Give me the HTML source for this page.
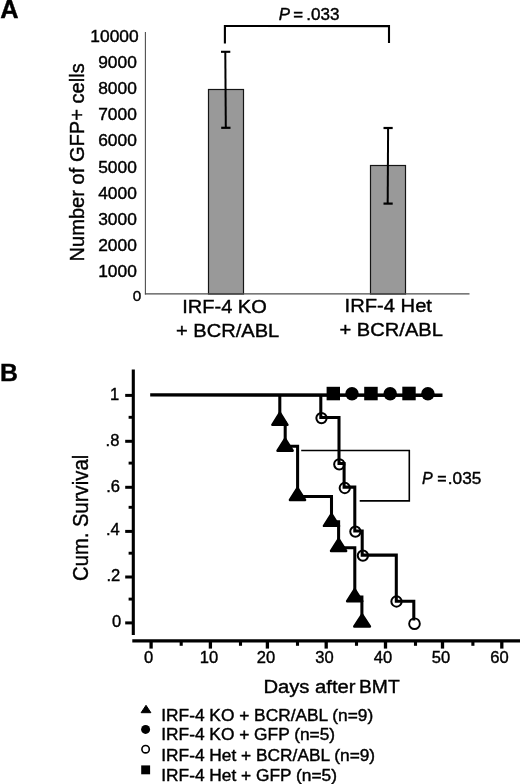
<!DOCTYPE html>
<html>
<head>
<meta charset="utf-8">
<title>Figure</title>
<style>
html,body{margin:0;padding:0;background:#fff;}
body{width:520px;height:784px;overflow:hidden;font-family:"Liberation Sans",sans-serif;}
svg{display:block;filter:grayscale(1);}
text{font-family:"Liberation Sans",sans-serif;fill:#000;stroke:#000;stroke-width:0.4px;}
.tk{font-size:16px;}
.tb{font-size:17px;}
.lg{font-size:16px;}
</style>
</head>
<body>
<svg width="520" height="784" viewBox="0 0 520 784">
<rect x="0" y="0" width="520" height="784" fill="#ffffff"/>

<!-- ================= PANEL A ================= -->
<text transform="translate(0.2,17.9) scale(0.99,1)" font-size="25.6" font-weight="bold" fill="#000">A</text>

<!-- y tick labels -->
<g class="tk" text-anchor="end">
<text transform="translate(138.6,41.5) scale(1.085,1)">10000</text>
<text transform="translate(136.8,67.8) scale(1.085,1)">9000</text>
<text transform="translate(136.8,94.0) scale(1.085,1)">8000</text>
<text transform="translate(136.8,120.2) scale(1.085,1)">7000</text>
<text transform="translate(136.8,146.4) scale(1.085,1)">6000</text>
<text transform="translate(136.8,172.7) scale(1.085,1)">5000</text>
<text transform="translate(136.8,198.9) scale(1.085,1)">4000</text>
<text transform="translate(136.8,225.1) scale(1.085,1)">3000</text>
<text transform="translate(136.8,251.4) scale(1.085,1)">2000</text>
<text transform="translate(136.8,277.3) scale(1.085,1)">1000</text>
</g>
<text transform="translate(141.2,300.7) scale(1.03,1)" font-size="14.8" text-anchor="end">0</text>

<!-- y axis label -->
<text transform="translate(84.3,261.5) rotate(-90) scale(0.981,1)" font-size="20.5">Number of GFP+ cells</text>

<!-- bars -->
<rect x="208.5" y="89.5" width="35" height="204.5" fill="#999999" stroke="#151515" stroke-width="1.2"/>
<rect x="370.5" y="165.5" width="35" height="128.5" fill="#999999" stroke="#151515" stroke-width="1.2"/>

<!-- axes -->
<line x1="145.4" y1="32" x2="145.4" y2="294.4" stroke="#4d4d4d" stroke-width="1.1"/>
<line x1="144.9" y1="293.9" x2="469.5" y2="293.9" stroke="#4d4d4d" stroke-width="1.1"/>

<!-- error bars -->
<g stroke="#000" fill="none">
<line x1="225.3" y1="52" x2="225.8" y2="127.7" stroke-width="2"/>
<line x1="221" y1="51.8" x2="230.3" y2="51.8" stroke-width="2.1"/>
<line x1="221.2" y1="127.8" x2="230.5" y2="127.8" stroke-width="2.2"/>
<line x1="388.1" y1="128" x2="387.7" y2="203.6" stroke-width="2"/>
<line x1="383.5" y1="128" x2="392.7" y2="128" stroke-width="2.2"/>
<line x1="383.5" y1="203.6" x2="392.7" y2="203.6" stroke-width="2.2"/>
</g>

<!-- bracket -->
<polyline points="224.9,43.6 224.9,26 389,26.1 389,42.9" fill="none" stroke="#000" stroke-width="2.1"/>
<text font-size="16"><tspan x="278.7" y="19.6" font-style="italic" textLength="11.2" lengthAdjust="spacingAndGlyphs">P</tspan><tspan x="293.2" y="19.6" textLength="9.8" lengthAdjust="spacingAndGlyphs">=</tspan><tspan x="306.3" y="19.6" textLength="33.2" lengthAdjust="spacingAndGlyphs">.033</tspan></text>

<!-- x labels -->
<text transform="translate(182.2,313) scale(1.055,1)" font-size="19">IRF-4 KO</text>
<text transform="translate(176,337.3) scale(1.058,1)" font-size="19">+ BCR/ABL</text>
<text transform="translate(344.6,312.3) scale(1.062,1)" font-size="19">IRF-4 Het</text>
<text transform="translate(339.5,336.4) scale(1.06,1)" font-size="19">+ BCR/ABL</text>

<!-- ================= PANEL B ================= -->
<text x="0.1" y="380.6" font-size="24.8" font-weight="bold" fill="#000">B</text>

<!-- axes -->
<g stroke="#000" fill="none">
<line x1="133.3" y1="369.5" x2="133.3" y2="635" stroke-width="3.1"/>
<line x1="132.3" y1="640.85" x2="520" y2="640.85" stroke-width="3.3"/>
<!-- y major ticks -->
<g stroke-width="3">
<line x1="125.2" y1="395.4" x2="133" y2="395.4"/>
<line x1="125.2" y1="441.3" x2="133" y2="441.3"/>
<line x1="125.2" y1="487.3" x2="133" y2="487.3"/>
<line x1="125.2" y1="531.4" x2="133" y2="531.4"/>
<line x1="125.2" y1="577" x2="133" y2="577"/>
<line x1="125.2" y1="622.9" x2="133" y2="622.9"/>
</g>
<!-- y minor ticks -->
<g stroke-width="2.9">
<line x1="128.6" y1="417.3" x2="133" y2="417.3"/>
<line x1="128.6" y1="463.1" x2="133" y2="463.1"/>
<line x1="128.6" y1="507.3" x2="133" y2="507.3"/>
<line x1="128.6" y1="553.2" x2="133" y2="553.2"/>
<line x1="128.6" y1="599.1" x2="133" y2="599.1"/>
</g>
<!-- x major ticks -->
<g stroke-width="3.3">
<line x1="151.1" y1="641" x2="151.1" y2="648.6"/>
<line x1="210.4" y1="641" x2="210.4" y2="648.6"/>
<line x1="267.4" y1="641" x2="267.4" y2="648.6"/>
<line x1="326.2" y1="641" x2="326.2" y2="648.6"/>
<line x1="385.5" y1="641" x2="385.5" y2="648.6"/>
<line x1="442.5" y1="641" x2="442.5" y2="648.6"/>
<line x1="501.8" y1="641" x2="501.8" y2="648.6"/>
</g>
<!-- x minor ticks -->
<g stroke-width="3.1">
<line x1="181.2" y1="641" x2="181.2" y2="645.8"/>
<line x1="240.5" y1="641" x2="240.5" y2="645.8"/>
<line x1="297.5" y1="641" x2="297.5" y2="645.8"/>
<line x1="356.5" y1="641" x2="356.5" y2="645.8"/>
<line x1="415.5" y1="641" x2="415.5" y2="645.8"/>
<line x1="472.9" y1="641" x2="472.9" y2="645.8"/>
</g>
</g>

<!-- y tick labels -->
<g class="tb" text-anchor="end">
<text transform="translate(119.3,400.1) scale(0.975,1)">1</text>
<text transform="translate(119.4,446.1) scale(0.975,1)">.8</text>
<text transform="translate(120,491.5) scale(0.975,1)">.6</text>
<text transform="translate(119.8,534.8) scale(0.975,1)">.4</text>
<text transform="translate(120.2,581.3) scale(0.975,1)">.2</text>
<text transform="translate(121.1,626.9) scale(0.975,1)">0</text>
</g>
<!-- x tick labels -->
<g class="tb" text-anchor="middle">
<text transform="translate(148.5,663.1) scale(0.975,1)">0</text>
<text transform="translate(209,663.1) scale(0.975,1)">10</text>
<text transform="translate(266,663.1) scale(0.975,1)">20</text>
<text transform="translate(324.5,663.1) scale(0.975,1)">30</text>
<text transform="translate(383,663.1) scale(0.975,1)">40</text>
<text transform="translate(441,663.1) scale(0.975,1)">50</text>
<text transform="translate(499.4,663.1) scale(0.975,1)">60</text>
</g>

<text transform="translate(88.2,581) rotate(-90) scale(0.957,1)" font-size="21.2">Cum. Survival</text>
<text transform="translate(263.4,692.5) scale(1.065,1)" font-size="19">Days after</text>
<text transform="translate(359,692.5) scale(1.015,1)" font-size="19">BMT</text>

<!-- thin bracket -->
<polyline points="301.2,450.5 409.3,450.5 409.3,500.9 359.7,500.9" fill="none" stroke="#000" stroke-width="1.6"/>
<text font-size="16"><tspan x="422" y="484" font-style="italic">P</tspan><tspan x="437.2" y="484">=</tspan><tspan x="447.8" y="484" textLength="33.5" lengthAdjust="spacingAndGlyphs">.035</tspan></text>

<!-- top line (GFP controls) -->
<line x1="150.2" y1="394.85" x2="442.5" y2="395.3" stroke="#000" stroke-width="3.4"/>

<!-- KO curve -->
<polyline fill="none" stroke="#000" stroke-width="3.05" stroke-linejoin="miter"
 points="279.8,395 279.8,423 285.2,423 285.2,446.3 297.6,446.3 297.6,496.5 331.5,496.5 331.5,521.7 338.6,521.7 338.6,547.8 354.8,547.8 354.8,597 361.9,597 361.9,622"/>
<!-- Het curve -->
<polyline fill="none" stroke="#000" stroke-width="3.05" stroke-linejoin="miter"
 points="320.8,395 320.8,417.4 339,417.4 339,463.5 344.1,463.5 344.1,487.1 354.8,487.1 354.8,531 362.2,531 362.2,555.1 396.3,555.1 396.3,601.2 413.8,601.2 413.8,620.4"/>

<!-- triangles -->
<g fill="#000" stroke="#000" stroke-width="2.4" stroke-linejoin="round">
<path d="M279.90 412.70 L287.50 424.80 L272.30 424.80 Z"/>
<path d="M285.10 438.60 L292.70 450.70 L277.50 450.70 Z"/>
<path d="M297.50 487.90 L305.10 500.00 L289.90 500.00 Z"/>
<path d="M331.50 513.80 L339.10 525.90 L323.90 525.90 Z"/>
<path d="M338.60 538.90 L346.20 551.00 L331.00 551.00 Z"/>
<path d="M354.70 589.10 L362.30 601.20 L347.10 601.20 Z"/>
<path d="M362.10 614.40 L369.95 626.50 L354.25 626.50 Z"/>
</g>

<!-- open circles -->
<g fill="none" stroke="#000" stroke-width="2">
<circle cx="321.5" cy="418.1" r="5.15"/>
<circle cx="339.3" cy="464.3" r="5.15"/>
<circle cx="344.8" cy="488" r="5.15"/>
<circle cx="355.4" cy="531.6" r="5.15"/>
<circle cx="362.9" cy="555.6" r="5.15"/>
<circle cx="396.5" cy="601.5" r="5.15"/>
</g>
<circle cx="414.5" cy="623.7" r="5.35" fill="none" stroke="#000" stroke-width="1.9"/>

<!-- top markers -->
<g fill="#000">
<rect x="326.6" y="386.8" width="13.4" height="13.5"/>
<circle cx="352" cy="393.65" r="6.75"/>
<rect x="364.2" y="386.8" width="13.5" height="13.5"/>
<circle cx="390.2" cy="393.65" r="6.75"/>
<rect x="402.3" y="386.7" width="13.4" height="13.6"/>
<circle cx="427.9" cy="393.65" r="6.75"/>
</g>

<!-- legend -->
<path d="M146 705.3 L150.9 712.7 L141.1 712.7 Z" fill="#000" stroke="#000" stroke-width="1" stroke-linejoin="round"/>
<circle cx="145.6" cy="729.4" r="4.5" fill="#000"/>
<circle cx="145.6" cy="749.2" r="3.7" fill="#fff" stroke="#000" stroke-width="1.6"/>
<rect x="141.2" y="765.4" width="8.9" height="8.9" fill="#000"/>
<g class="lg">
<text transform="translate(161.3,721.3) scale(1.083,1)">IRF-4 KO + BCR/ABL (n=9)</text>
<text transform="translate(161.3,739.8) scale(1.083,1)">IRF-4 KO + GFP (n=5)</text>
<text transform="translate(161.3,761) scale(1.083,1)">IRF-4 Het + BCR/ABL (n=9)</text>
<text transform="translate(161.3,780.5) scale(1.083,1)">IRF-4 Het + GFP (n=5)</text>
</g>
</svg>
</body>
</html>
